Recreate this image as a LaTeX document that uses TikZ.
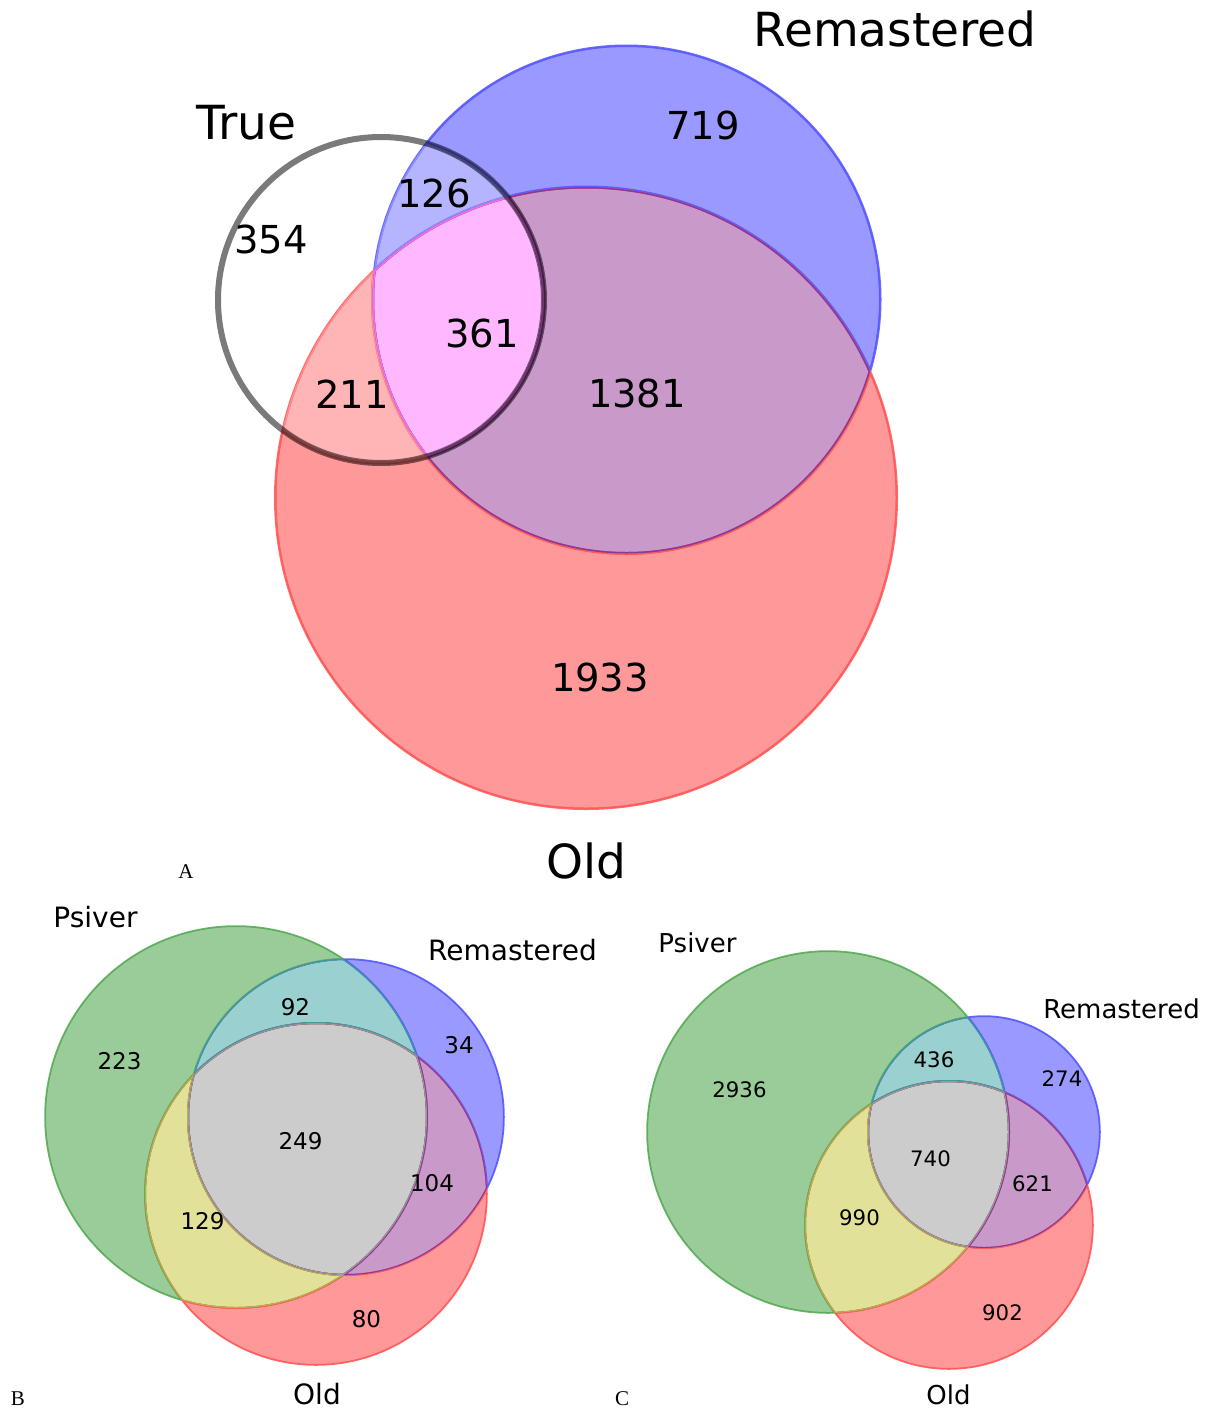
\documentclass[tikz,border=0pt]{standalone}
\usepackage{fontspec}
\setmainfont{DejaVu Sans}
\newfontfamily\lettfont{Liberation Serif}
% panel A colours (1 = True, 2 = Remastered, 3 = Old)
\definecolor{ac1}{HTML}{FFFFFF}
\definecolor{ac2}{HTML}{9999FF}
\definecolor{ac3}{HTML}{FF9999}
\definecolor{ac12}{HTML}{B5B5FF}
\definecolor{ac13}{HTML}{FFB5B5}
\definecolor{ac23}{HTML}{C999C9}
\definecolor{ac123}{HTML}{FFB8FF}
% panel B/C colours (1 = Psiver, 2 = Remastered, 3 = Old)
\definecolor{bc1}{HTML}{99CC99}
\definecolor{bc2}{HTML}{9999FF}
\definecolor{bc3}{HTML}{FF9999}
\definecolor{bc12}{HTML}{9AD0D0}
\definecolor{bc13}{HTML}{E1E199}
\definecolor{bc23}{HTML}{C999C9}
\definecolor{bc123}{HTML}{CCCCCC}
\tikzset{
  ab1/.style={draw=none}, ab2/.style={draw={rgb,255:red,107;green,107;blue,255}}, ab3/.style={draw={rgb,255:red,255;green,107;blue,107}},
  ae1/.style={draw=none}, ae2/.style={draw={rgb,255:red,92;green,92;blue,255}}, ae3/.style={draw={rgb,255:red,255;green,92;blue,92}},
  ae12/.style={draw={rgb,255:red,140;green,140;blue,255}}, ae13/.style={draw={rgb,255:red,255;green,140;blue,140}},
  ae23/.style={draw={rgb,255:red,140;green,56;blue,150}}, ae123/.style={draw={rgb,255:red,240;green,112;blue,240}},
  bb1/.style={draw={rgb,255:red,107;green,184;blue,107}}, bb2/.style={draw={rgb,255:red,107;green,107;blue,255}}, bb3/.style={draw={rgb,255:red,255;green,107;blue,107}},
  be1/.style={draw={rgb,255:red,92;green,173;blue,92}}, be2/.style={draw={rgb,255:red,92;green,92;blue,255}}, be3/.style={draw={rgb,255:red,255;green,92;blue,92}},
  be12/.style={draw={rgb,255:red,58;green,158;blue,158}}, be13/.style={draw={rgb,255:red,181;green,181;blue,69}},
  be23/.style={draw={rgb,255:red,140;green,56;blue,150}}, be123/.style={draw={rgb,255:red,154;green,154;blue,154}},
  lbl/.style={anchor=base, inner sep=0pt, font=\fontsize{#1}{#1}\selectfont},
  letter/.style={anchor=base, inner sep=0pt, font=\lettfont\fontsize{21}{21}\selectfont},
  truering/.style={draw=black, draw opacity=0.52, line width=6},
}
% #1 coordinate prefix, #2 colour prefix, #3 #4 #5 radii, #6 base width, #7 region edge width
\newcommand\threecirc[6]{\path[#2, line width=#6] (#1p1) circle[radius=#3] (#1p2) circle[radius=#4] (#1p3) circle[radius=#5];}
\newcommand\vennpanel[7]{%
  \fill[#2c1] (#1p1) circle[radius=#3];
  \fill[#2c2] (#1p2) circle[radius=#4];
  \fill[#2c3] (#1p3) circle[radius=#5];
  \begin{scope}\clip (#1p1) circle[radius=#3]; \fill[#2c12] (#1p2) circle[radius=#4];\end{scope}
  \begin{scope}\clip (#1p1) circle[radius=#3]; \fill[#2c13] (#1p3) circle[radius=#5];\end{scope}
  \begin{scope}\clip (#1p2) circle[radius=#4]; \fill[#2c23] (#1p3) circle[radius=#5];\end{scope}
  \begin{scope}\clip (#1p1) circle[radius=#3]; \clip (#1p2) circle[radius=#4]; \fill[#2c123] (#1p3) circle[radius=#5];\end{scope}
  \path[#2b1, line width=#6] (#1p1) circle[radius=#3];
  \path[#2b2, line width=#6] (#1p2) circle[radius=#4];
  \path[#2b3, line width=#6] (#1p3) circle[radius=#5];
  \begin{scope}\clip (#1p1) circle[radius=#3]; \threecirc{#1}{#2e1}{#3}{#4}{#5}{#7}\end{scope}
  \begin{scope}\clip (#1p2) circle[radius=#4]; \threecirc{#1}{#2e2}{#3}{#4}{#5}{#7}\end{scope}
  \begin{scope}\clip (#1p3) circle[radius=#5]; \threecirc{#1}{#2e3}{#3}{#4}{#5}{#7}\end{scope}
  \begin{scope}\clip (#1p1) circle[radius=#3]; \clip (#1p2) circle[radius=#4]; \threecirc{#1}{#2e12}{#3}{#4}{#5}{#7}\end{scope}
  \begin{scope}\clip (#1p1) circle[radius=#3]; \clip (#1p3) circle[radius=#5]; \threecirc{#1}{#2e13}{#3}{#4}{#5}{#7}\end{scope}
  \begin{scope}\clip (#1p2) circle[radius=#4]; \clip (#1p3) circle[radius=#5]; \threecirc{#1}{#2e23}{#3}{#4}{#5}{#7}\end{scope}
  \begin{scope}\clip (#1p1) circle[radius=#3]; \clip (#1p2) circle[radius=#4]; \clip (#1p3) circle[radius=#5]; \threecirc{#1}{#2e123}{#3}{#4}{#5}{#7}\end{scope}
}
\begin{document}
\begin{tikzpicture}[x=1pt, y=-1pt]
\path[use as bounding box, fill=white] (0,0) rectangle (1209,1413);
% ---------- Panel A ----------
\coordinate (Ap1) at (381,300);
\coordinate (Ap2) at (626.5,299.5);
\coordinate (Ap3) at (586,498);
\vennpanel{A}{a}{163pt}{254pt}{311pt}{2}{3}
\draw[truering] (Ap1) circle[radius=163pt];
\node[lbl=47] (remA) at (895,47) {Remastered};
\node[lbl=47] (trueA) at (246.5,139) {True};
\node[lbl=47] (oldA) at (586,878) {Old};
\node[letter] (letA) at (186,878) {A};
\node[lbl=38.5] (nA719) at (703,139) {719};
\node[lbl=38.5] (nA126) at (434,207) {126};
\node[lbl=38.5] (nA354) at (271,253) {354};
\node[lbl=38.5] (nA361) at (482,347) {361};
\node[lbl=38.5] (nA211) at (352,408) {211};
\node[lbl=38.5] (nA1381) at (637,407) {1381};
\node[lbl=38.5] (nA1933) at (600,691) {1933};
% ---------- Panel B ----------
\coordinate (Bp1) at (236,1117);
\coordinate (Bp2) at (346,1117);
\coordinate (Bp3) at (316,1194);
\vennpanel{B}{b}{191pt}{158pt}{171pt}{1.5}{2}
\node[lbl=28] (psiB) at (95.5,927) {Psiver};
\node[lbl=28] (remB) at (512.5,960) {Remastered};
\node[lbl=28] (oldB) at (317,1404) {Old};
\node[letter] (letB) at (18,1405) {B};
\node[lbl=23] (nB223) at (119.5,1069.5) {223};
\node[lbl=23] (nB92) at (295.5,1015) {92};
\node[lbl=23] (nB34) at (459,1053) {34};
\node[lbl=23] (nB249) at (300.5,1149) {249};
\node[lbl=23] (nB104) at (432,1191.5) {104};
\node[lbl=23] (nB129) at (202.5,1229) {129};
\node[lbl=23] (nB80) at (366.5,1327) {80};
% ---------- Panel C ----------
\coordinate (Cp1) at (828,1132);
\coordinate (Cp2) at (984,1132);
\coordinate (Cp3) at (949,1225);
\vennpanel{C}{b}{181pt}{116pt}{144pt}{1.5}{2}
\node[lbl=26] (psiC) at (697.5,952) {Psiver};
\node[lbl=26] (remC) at (1121.5,1018) {Remastered};
\node[lbl=26] (oldC) at (948.5,1404) {Old};
\node[letter] (letC) at (622,1405) {C};
\node[lbl=21.3] (nC2936) at (739.5,1097) {2936};
\node[lbl=21.3] (nC436) at (934,1067) {436};
\node[lbl=21.3] (nC274) at (1062,1086) {274};
\node[lbl=21.3] (nC740) at (930.5,1166.5) {740};
\node[lbl=21.3] (nC621) at (1032.5,1191.5) {621};
\node[lbl=21.3] (nC990) at (859.5,1225) {990};
\node[lbl=21.3] (nC902) at (1002.5,1320) {902};
\end{tikzpicture}
\end{document}
